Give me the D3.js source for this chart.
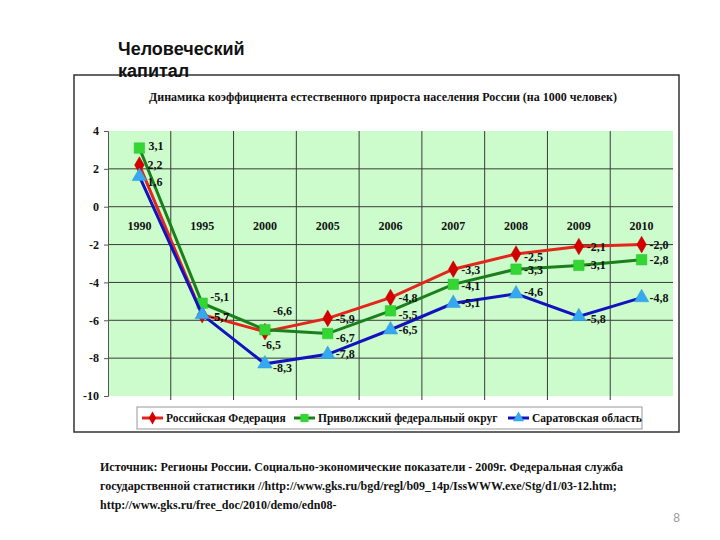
<!DOCTYPE html>
<html><head><meta charset="utf-8">
<script src="https://cdn.jsdelivr.net/npm/d3@7"></script>
<style>
body{margin:0;background:#fff}svg{display:block}
.sf{font-family:"Liberation Serif","Times New Roman","DejaVu Serif",serif;font-weight:bold}
.ss{font-family:"Liberation Sans",Arial,"DejaVu Sans",sans-serif}
</style>
</head><body>
<script>
const years = ["1990","1995","2000","2005","2006","2007","2008","2009","2010"];
const russia = [2.2,-5.7,-6.6,-5.9,-4.8,-3.3,-2.5,-2.1,-2.0];
const volga = [3.1,-5.1,-6.5,-6.7,-5.5,-4.1,-3.3,-3.1,-2.8];
const saratov = [1.6,-5.7,-8.3,-7.8,-6.5,-5.1,-4.6,-5.8,-4.8];
const seriesNames = ["Российская Федерация","Приволжский федеральный округ","Саратовская область"];
const yTicks = [4,2,0,-2,-4,-6,-8,-10];
const pageTitle = ["Человеческий","капитал"];
const chartTitle = "Динамика коэффициента естественного прироста населения России (на 1000 человек)";
const sourceLines = [
 "Источник: Регионы России. Социально-экономические показатели - 2009г. Федеральная служба",
 "государственной статистики //http://www.gks.ru/bgd/regl/b09_14p/IssWWW.exe/Stg/d1/03-12.htm;",
 "http://www.gks.ru/free_doc/2010/demo/edn08-"
];
const pageNum = "8";

const W=720,H=540;
const svg=d3.select("body").append("svg").attr("width",W).attr("height",H);

svg.append("rect").attr("x",74).attr("y",75).attr("width",605).attr("height",357)
 .attr("fill","#fff").attr("stroke","#333").attr("stroke-width",1.5);

svg.append("g").selectAll("text").data(pageTitle).join("text").attr("class","ss")
 .attr("x",118).attr("y",(d,i)=>55+i*22).attr("font-weight","bold")
 .attr("font-size",18).attr("fill","#111").text(d=>d);

svg.append("text").attr("class","sf").attr("x",383).attr("y",101).attr("text-anchor","middle")
 .attr("font-size",12).attr("fill","#111").text(chartTitle);

const L=108,R=673,T=131,B=396;
const x=d3.scaleBand().domain(years).range([L,R]);
const y=d3.scaleLinear().domain([-10,4]).range([B,T]);

svg.append("rect").attr("x",L).attr("y",T).attr("width",R-L).attr("height",B-T).attr("fill","#ccfccc");

const g=svg.append("g");
g.selectAll(".hg").data(yTicks.filter(v=>v>-10&&v<4)).join("line")
 .attr("x1",L).attr("x2",R).attr("y1",d=>y(d)).attr("y2",d=>y(d))
 .attr("stroke","#3a3a3a").attr("stroke-width",1);
g.selectAll(".vg").data(years.slice(1)).join("line")
 .attr("x1",d=>x(d)).attr("x2",d=>x(d)).attr("y1",T).attr("y2",B+4)
 .attr("stroke","#3a3a3a").attr("stroke-width",1);

const ya=svg.append("g").attr("transform",`translate(${L},0)`)
 .call(d3.axisLeft(y).tickValues(yTicks).tickSize(4).tickPadding(5).tickFormat(d=>d));
ya.select(".domain").attr("stroke","#555");
ya.selectAll(".tick line").attr("stroke","#555");
ya.selectAll("text").attr("class","sf").attr("font-size",12).attr("fill","#111");

const xa=svg.append("g").attr("transform",`translate(0,${y(0)})`)
 .call(d3.axisBottom(x).tickSize(0).tickPadding(15));
xa.select(".domain").remove();
xa.selectAll("text").attr("class","sf").attr("font-size",12).attr("fill","#111");
ya.attr("font-family",null); xa.attr("font-family",null);

const fmt=v=>d3.format(".1f")(v).replace(".",",").replace("−","-");
const series=[
 {name:seriesNames[0],vals:russia,line:"#e3261c",mark:"#d40000",shape:d3.symbolDiamond,size:80},
 {name:seriesNames[1],vals:volga,line:"#1b7f1b",mark:"#33d633",shape:d3.symbolSquare,size:110},
 {name:seriesNames[2],vals:saratov,line:"#1212bf",mark:"#36a8f0",shape:d3.symbolTriangle,size:90}
];
const line=d3.line().x((d,i)=>x(years[i])+x.bandwidth()/2).y(d=>y(d));
const offs=[
 [[8,4],[8,6],[8,-17],[8,5],[8,4],[8,5],[8,7],[8,5],[8,4]],
 [[9,2],[8,-2],[-3,19],[8,8],[8,8],[8,6],[8,5],[8,4],[8,4]],
 [[8,10],[8,6],[8,8],[8,4],[8,4],[8,4],[8,2],[8,6],[8,4]]
];
const lab=svg.append("g");
series.forEach((s,si)=>{
 svg.append("path").datum(s.vals).attr("d",line).attr("fill","none")
  .attr("stroke",s.line).attr("stroke-width",3);
 svg.append("g").selectAll("path").data(s.vals).join("path")
  .attr("transform",(d,i)=>`translate(${x(years[i])+x.bandwidth()/2},${y(d)})`)
  .attr("d",d3.symbol().type(s.shape).size(s.size)).attr("fill",s.mark)
  .attr("stroke",d3.color(s.mark).darker(0.3)).attr("stroke-width",0.5);
 lab.selectAll(null).data(s.vals).join("text").attr("class","sf")
  .attr("x",(d,i)=>x(years[i])+x.bandwidth()/2+offs[si][i][0])
  .attr("y",(d,i)=>y(d)+offs[si][i][1])
  .attr("font-size",12).attr("fill","#111")
  .text(d=>fmt(d));
});
lab.raise();

const lg=svg.append("g");
lg.append("rect").attr("x",137).attr("y",407).attr("width",505).attr("height",22)
 .attr("fill","#fff").attr("stroke","#999").attr("stroke-width",1);
const lx=[142,294,508];
series.forEach((s,i)=>{
 const g2=lg.append("g").attr("transform",`translate(${lx[i]},418)`);
 g2.append("line").attr("x1",0).attr("x2",21).attr("stroke",s.line).attr("stroke-width",3);
 g2.append("path").attr("transform","translate(10.5,0)").attr("d",d3.symbol().type(s.shape).size(s.size*0.6)).attr("fill",s.mark);
 g2.append("text").attr("class","sf").attr("x",24).attr("y",4)
  .attr("font-size",11.5).attr("fill","#111").text(s.name);
});

svg.append("g").selectAll("text").data(sourceLines).join("text").attr("class","sf")
 .attr("x",100).attr("y",(d,i)=>471+i*19)
 .attr("font-size",12).attr("fill","#111").text(d=>d);

svg.append("text").attr("class","ss").attr("x",680).attr("y",522).attr("text-anchor","end")
 .attr("font-size",12).attr("fill","#999").text(pageNum);
</script>
</body></html>
